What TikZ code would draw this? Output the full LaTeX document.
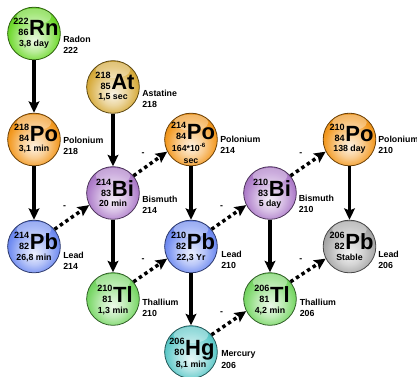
\documentclass[tikz,border=0pt]{standalone}
\usepackage{fontspec}
\setmainfont{Liberation Sans}
\usetikzlibrary{arrows.meta,positioning}

\definecolor{radon}{RGB}{100,215,30}
\definecolor{astatine}{RGB}{212,165,45}
\definecolor{polonium}{RGB}{242,145,15}
\definecolor{bismuth}{RGB}{168,115,198}
\definecolor{lead}{RGB}{100,130,240}
\definecolor{thallium}{RGB}{110,212,90}
\definecolor{mercury}{RGB}{80,196,196}
\definecolor{stable}{RGB}{160,160,160}
\colorlet{nucc}{radon}

% glassy ball: light spot low in the middle, saturated rim
\pgfdeclareradialshading[nucc]{glossy}{\pgfpoint{0bp}{-7bp}}{%
  color(0bp)=(nucc!12!white);
  color(12bp)=(nucc!45!white);
  color(24bp)=(nucc!92!white);
  color(32bp)=(nucc!90!black);
  color(50bp)=(nucc!90!black)}

% mass number over atomic number, then the symbol
\newcommand{\nucsym}[3]{%
  {\fontsize{6.8}{8.2}\selectfont\begin{tabular}[b]{@{}r@{}}#1\\#2\end{tabular}}%
  \hspace{0.5pt}{\fontsize{16.5}{16}\selectfont #3}}

\begin{document}
\begin{tikzpicture}[
    x=0.75pt,
    y=-0.75pt,
    ball/.style={
      circle,
      /utils/exec={\colorlet{nucc}{#1}},
      shading=glossy,
      draw=#1!45!black,
      line width=0.6pt,
      minimum size=39.5pt,
      inner sep=0pt,
      path picture={
        \fill[white, opacity=0.35]
          ([yshift=-7pt]path picture bounding box.north)
          ellipse [x radius=13pt, y radius=6pt];
      }
    },
    symb/.style={
      anchor=base,
      inner sep=0pt,
      text depth=0pt,
      font=\bfseries
    },
    halflife/.style={
      anchor=base,
      inner sep=0pt,
      font=\fontsize{6.6}{8}\selectfont\bfseries
    },
    elname/.style={
      anchor=west,
      inner sep=0pt,
      align=left,
      font=\fontsize{6.6}{8.3}\selectfont\bfseries
    },
    decay/.style={
      line width=2.3pt,
      -{Stealth[length=8.5pt,width=8pt,inset=1.5pt]}
    },
    beta/.style={
      line width=2.6pt,
      dash pattern=on 2.6pt off 2.4pt,
      -{Stealth[length=8.5pt,width=8pt,inset=1.5pt]}
    },
    charge/.style={
      font=\fontsize{6.6}{8}\selectfont\bfseries,
      inner sep=0pt
    }
  ]

    \useasboundingbox (0,0) rectangle (417,376);

    % Radon 222
    \begin{scope}[shift={(34,33.5)}]
      \node[ball=radon] (rn222) at (0,0) {};
      \node[symb] (rn222-sym) at (2,1.5) {\nucsym{222}{86}{Rn}};
      \node[halflife] (rn222-t) at (0,12.5) {3,8 day};
      \node[elname] (rn222-lbl) at (29,11) {Radon\\222};
    \end{scope}

    % Astatine 218
    \begin{scope}[shift={(113,87)}]
      \node[ball=astatine] (at218) at (0,0) {};
      \node[symb] (at218-sym) at (2,2) {\nucsym{218}{85}{At}};
      \node[halflife] (at218-t) at (0,12.5) {1,5 sec};
      \node[elname] (at218-lbl) at (29,11.5) {Astatine\\218};
    \end{scope}

    % Polonium 218
    \begin{scope}[shift={(34,139.5)}]
      \node[ball=polonium] (po218) at (0,0) {};
      \node[symb] (po218-sym) at (2,2) {\nucsym{218}{84}{Po}};
      \node[halflife] (po218-t) at (0,12) {3,1 min};
      \node[elname] (po218-lbl) at (29,6) {Polonium\\218};
    \end{scope}

    % Bismuth 214
    \begin{scope}[shift={(113,193)}]
      \node[ball=bismuth] (bi214) at (0,0) {};
      \node[symb] (bi214-sym) at (2,3) {\nucsym{214}{83}{Bi}};
      \node[halflife] (bi214-t) at (0,13) {20 min};
      \node[elname] (bi214-lbl) at (29,11.5) {Bismuth\\214};
    \end{scope}

    % Polonium 214
    \begin{scope}[shift={(191,139.5)}]
      \node[ball=polonium] (po214) at (0,0) {};
      \node[symb] (po214-sym) at (2,0) {\nucsym{214}{84}{Po}};
      \node[halflife] (po214-t) at (-2,12) {164*10\textsuperscript{-6}};
      \node[halflife] (po214-t2) at (0,23.5) {sec};
      \node[elname] (po214-lbl) at (29,5.5) {Polonium\\214};
    \end{scope}

    % Lead 214
    \begin{scope}[shift={(34,246.5)}]
      \node[ball=lead] (pb214) at (0,0) {};
      \node[symb] (pb214-sym) at (2,2.5) {\nucsym{214}{82}{Pb}};
      \node[halflife] (pb214-t) at (0,13.5) {26,8 min};
      \node[elname] (pb214-lbl) at (29,14) {Lead\\214};
    \end{scope}

    % Thallium 210
    \begin{scope}[shift={(113,299)}]
      \node[ball=thallium] (tl210) at (0,0) {};
      \node[symb] (tl210-sym) at (2,3.5) {\nucsym{210}{81}{Tl}};
      \node[halflife] (tl210-t) at (0,14) {1,3 min};
      \node[elname] (tl210-lbl) at (29,8.5) {Thallium\\210};
    \end{scope}

    % Lead 210
    \begin{scope}[shift={(191,246.5)}]
      \node[ball=lead] (pb210) at (0,0) {};
      \node[symb] (pb210-sym) at (2,2.5) {\nucsym{210}{82}{Pb}};
      \node[halflife] (pb210-t) at (0,13.5) {22,3 Yr};
      \node[elname] (pb210-lbl) at (30,13.5) {Lead\\210};
    \end{scope}

    % Mercury 206
    \begin{scope}[shift={(191,352)}]
      \node[ball=mercury] (hg206) at (0,0) {};
      \node[symb] (hg206-sym) at (1,3) {\nucsym{206}{80}{Hg}};
      \node[halflife] (hg206-t) at (0,15) {8,1 min};
      \node[elname] (hg206-lbl) at (30,7.5) {Mercury\\206};
    \end{scope}

    % Bismuth 210
    \begin{scope}[shift={(270,193)}]
      \node[ball=bismuth] (bi210) at (0,0) {};
      \node[symb] (bi210-sym) at (2,3) {\nucsym{210}{83}{Bi}};
      \node[halflife] (bi210-t) at (0,13) {5 day};
      \node[elname] (bi210-lbl) at (28.5,10.5) {Bismuth\\210};
    \end{scope}

    % Thallium 206
    \begin{scope}[shift={(270,299)}]
      \node[ball=thallium] (tl206) at (0,0) {};
      \node[symb] (tl206-sym) at (2,3.5) {\nucsym{206}{81}{Tl}};
      \node[halflife] (tl206-t) at (0,14) {4,2 min};
      \node[elname] (tl206-lbl) at (29.5,8.5) {Thallium\\206};
    \end{scope}

    % Polonium 210
    \begin{scope}[shift={(349.5,139.5)}]
      \node[ball=polonium] (po210) at (0,0) {};
      \node[symb] (po210-sym) at (2,1.5) {\nucsym{210}{84}{Po}};
      \node[halflife] (po210-t) at (0,12) {138 day};
      \node[elname] (po210-lbl) at (28.5,5.5) {Polonium\\210};
    \end{scope}

    % Lead 206
    \begin{scope}[shift={(349.5,246.5)}]
      \node[ball=stable] (pb206) at (0,0) {};
      \node[symb] (pb206-sym) at (2,2.5) {\nucsym{206}{82}{Pb}};
      \node[halflife] (pb206-t) at (0,14) {Stable};
      \node[elname] (pb206-lbl) at (28.5,13.5) {Lead\\206};
    \end{scope}

    % Alpha decays (straight down)
    \draw[decay] (rn222) -- (po218);
    \draw[decay] (po218) -- (pb214);
    \draw[decay] (at218) -- (bi214);
    \draw[decay] (bi214) -- (tl210);
    \draw[decay] (po214) -- (pb210);
    \draw[decay] (pb210) -- (hg206);
    \draw[decay] (bi210) -- (tl206);
    \draw[decay] (po210) -- (pb206);

    % Beta decays (dotted, up to the right)
    \draw[beta] (pb214.40) -- node[charge, above left=5pt and 3pt] (pb214-q) {-} (bi214.207);
    \draw[beta] (bi214.40) -- node[charge, above left=5pt and 3pt] (bi214-q) {-} (po214.207);
    \draw[beta] (tl210.40) -- node[charge, above left=5pt and 3pt] (tl210-q) {-} (pb210.207);
    \draw[beta] (pb210.40) -- node[charge, above left=5pt and 3pt] (pb210-q) {-} (bi210.207);
    \draw[beta] (bi210.40) -- node[charge, above left=5pt and 3pt] (bi210-q) {-} (po210.207);
    \draw[beta] (hg206.40) -- node[charge, above left=5pt and 3pt] (hg206-q) {-} (tl206.207);
    \draw[beta] (tl206.40) -- node[charge, above left=5pt and 3pt] (tl206-q) {-} (pb206.207);

  \end{tikzpicture}
\end{document}
